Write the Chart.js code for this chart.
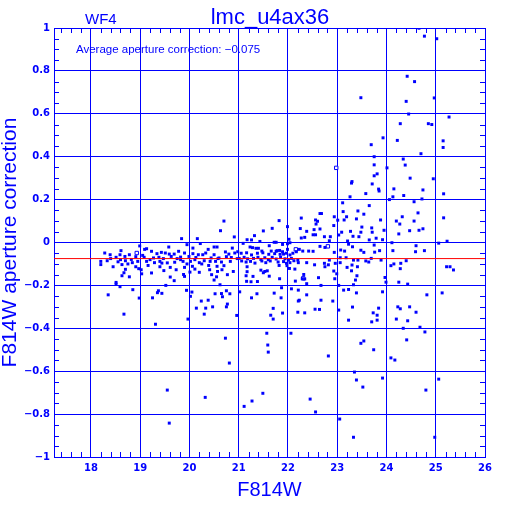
<!DOCTYPE html>
<html>
<head>
<meta charset="utf-8">
<script src="https://cdn.jsdelivr.net/npm/chart.js@4.4.1/dist/chart.umd.min.js"></script>
<style>
  html, body { margin: 0; padding: 0; background: #fff; }
  #wrap { width: 512px; height: 512px; }
</style>
</head>
<body>
<div id="wrap"><canvas id="chart" width="512" height="512"></canvas></div>
<script>
// axis ticks
const xTicks = [18, 19, 20, 21, 22, 23, 24, 25, 26];
const yTicks = [-1, -0.8, -0.6, -0.4, -0.2, 0, 0.2, 0.4, 0.6, 0.8, 1];
const avgCorr = -0.075;

// [F814W, aperture correction] for the bright stars (F814W < 22.3)
const brightStars = [
  [20.63,0.055],[20.91,0.026],[19.84,0.018],[20.16,0.018],[19.95,-0.010],[20.22,-0.005],[18.99,-0.016],
  [19.58,-0.021],[20.50,-0.021],[20.87,-0.026],[20.56,-0.021],[20.38,-0.032],[20.07,-0.026],[19.13,-0.029],
  [19.09,-0.032],[18.61,-0.038],[18.28,-0.049],[18.39,-0.057],[18.20,-0.088],[18.20,-0.103],[18.33,-0.085],
  [18.45,-0.113],[18.51,-0.069],[18.59,-0.057],[18.60,-0.080],[18.63,-0.103],[18.69,-0.065],[18.70,-0.085],
  [18.78,-0.057],[18.82,-0.079],[18.84,-0.094],[18.70,-0.125],[18.67,-0.141],[18.63,-0.155],[18.78,-0.160],
  [18.51,-0.186],[18.51,-0.194],[18.59,-0.206],[18.85,-0.220],[18.35,-0.244],[18.98,-0.259],
  [18.91,-0.066],[18.95,-0.088],[18.91,-0.113],[18.97,-0.122],[19.02,-0.127],[19.03,-0.146],[19.08,-0.069],
  [19.13,-0.088],[19.16,-0.107],[19.23,-0.041],[19.27,-0.072],[19.29,-0.094],[19.23,-0.142],[19.34,-0.052],
  [19.38,-0.069],[19.43,-0.046],[19.40,-0.088],[19.40,-0.113],[19.44,-0.096],[19.51,-0.049],[19.59,-0.054],
  [19.63,-0.065],[19.48,-0.131],[19.61,-0.116],[19.69,-0.054],[19.70,-0.092],[19.73,-0.127],[19.61,-0.161],
  [19.69,-0.178],[19.52,-0.200],[19.37,-0.225],[19.44,-0.237],[19.35,-0.234],[19.25,-0.258],[19.78,-0.041],
  [19.82,-0.068],[19.87,-0.088],[19.90,-0.049],[19.90,-0.116],[19.82,-0.080],[19.99,-0.065],[20.02,-0.088],
  [20.06,-0.111],[20.07,-0.052],[20.11,-0.080],[20.18,-0.057],[20.20,-0.094],[20.11,-0.124],[20.27,-0.057],
  [20.33,-0.049],[20.30,-0.085],[20.39,-0.107],[20.44,-0.072],[20.50,-0.057],[20.53,-0.088],[20.56,-0.111],
  [20.60,-0.072],[20.65,-0.091],[20.73,-0.044],[20.75,-0.066],[20.80,-0.054],[20.83,-0.088],[20.89,-0.135],
  [20.77,-0.150],[20.55,-0.160],[20.50,-0.175],[20.62,-0.197],[20.75,-0.225],[20.82,-0.239],[20.65,-0.238],
  [20.52,-0.239],[20.67,-0.253],[20.38,-0.269],[20.05,-0.231],[20.02,-0.251],[19.94,-0.223],[19.90,-0.158],
  [20.92,-0.049],[20.97,-0.075],[19.88,-0.149],[20.01,-0.138],[20.20,-0.139],[20.41,-0.127],[20.45,-0.150],
  [20.57,-0.135],[20.66,-0.127],[18.40,-0.075],[18.55,-0.090],[18.75,-0.100],[19.05,-0.060],[19.20,-0.080],
  [19.47,-0.075],[19.55,-0.095],[19.75,-0.075],[19.95,-0.100],[20.13,-0.070],[20.25,-0.100],[20.42,-0.088],
  [20.58,-0.075],[20.70,-0.108],[20.85,-0.070],
  [20.70,0.100],[21.82,0.102],[21.68,0.066],[21.99,0.074],
  [22.25,0.065],[21.50,0.054],[21.32,0.032],[21.17,0.013],[21.26,0.012],[21.43,0.005],[22.02,0.015],
  [22.04,-0.001],[21.89,-0.009],[21.99,-0.006],[21.72,0.001],[21.76,0.001],[21.62,-0.015],[21.09,-0.004],
  [21.23,-0.021],[21.28,-0.024],[21.35,-0.027],[21.40,-0.027],[21.47,-0.040],[21.66,-0.040],[21.76,-0.041],
  [21.78,-0.038],[21.83,-0.037],[21.89,-0.043],[21.99,-0.032],[22.17,-0.043],[22.23,-0.032],
  [20.98,-0.043],[21.05,-0.050],[21.16,-0.048],[21.26,-0.058],[21.38,-0.050],[21.49,-0.048],[21.61,-0.055],
  [21.73,-0.052],[21.84,-0.055],[21.91,-0.054],[21.97,-0.050],[22.04,-0.058],[22.10,-0.050],[21.01,-0.074],
  [21.11,-0.069],[21.18,-0.076],[21.30,-0.074],[21.39,-0.069],[21.45,-0.079],[21.53,-0.071],[21.60,-0.080],
  [21.68,-0.069],[21.76,-0.077],[21.85,-0.069],[21.94,-0.076],[22.01,-0.082],[22.07,-0.074],[22.12,-0.085],
  [22.20,-0.082],[21.06,-0.086],[21.15,-0.091],[21.24,-0.088],[21.33,-0.096],[21.47,-0.086],[21.55,-0.094],
  [21.64,-0.086],[21.80,-0.091],[21.91,-0.089],[21.97,-0.097],[22.04,-0.094],[21.17,-0.113],[21.45,-0.129],
  [21.53,-0.135],[21.58,-0.132],[21.50,-0.141],[21.82,-0.107],[21.98,-0.108],[22.03,-0.121],[22.14,-0.124],
  [22.21,-0.094],[21.62,-0.157],[21.17,-0.136],[21.15,-0.155],[21.29,-0.158],[21.38,-0.182],[21.25,-0.183],
  [21.16,-0.181],[21.83,-0.169],[22.15,-0.180],[21.02,-0.230],[21.26,-0.258],[21.37,-0.239],[21.72,-0.236],
  [21.86,-0.258],[21.87,-0.211],[22.07,-0.216],[22.21,-0.222],[22.23,-0.269],
  [18.67,-0.334],[19.31,-0.381],[19.97,-0.357],[20.14,-0.306],[20.24,-0.273],[20.33,-0.306],[20.30,-0.334],
  [20.47,-0.300],[20.75,-0.300],[20.77,-0.287],[20.96,-0.340],[20.73,-0.446],[20.81,-0.562],[21.57,-0.423],
  [21.59,-0.478],[21.60,-0.511],[21.70,-0.307],[21.65,-0.339],[21.70,-0.357],[21.89,-0.329],[22.06,-0.423],
  [22.21,-0.273],[22.20,-0.325],[19.55,-0.688],[20.32,-0.722],[21.11,-0.764],[21.27,-0.739],[21.49,-0.703],
  [19.59,-0.842]
];

// [F814W, aperture correction] for the faint stars (F814W >= 22.3)
const faintStars = [
  [24.66,0.999],[24.77,0.962],[25.02,0.950],[24.42,0.775],[24.57,0.750],[23.48,0.675],[24.40,0.658],
  [24.97,0.674],[24.45,0.599],[25.27,0.585],[24.28,0.554],[24.85,0.554],[24.92,0.550],[23.93,0.488],
  [24.22,0.476],[25.15,0.474],[23.69,0.456],[25.15,0.443],[24.70,0.414],[23.75,0.400],[24.34,0.389],
  [23.75,0.362],[24.01,0.348],[24.38,0.361],[23.81,0.320],[23.75,0.311],[24.48,0.300],[24.95,0.297],
  [23.30,0.284],[23.29,0.277],[23.71,0.273],[23.84,0.249],[23.85,0.240],[24.15,0.250],[24.74,0.245],
  [23.58,0.228],[25.16,0.227],[23.26,0.213],[24.13,0.213],[24.35,0.219],[24.72,0.203],[24.06,0.200],
  [24.56,0.190],[23.11,0.185],[23.65,0.172],[24.64,0.138],[23.42,0.147],[23.12,0.144],[22.65,0.135],
  [22.68,0.135],[23.54,0.132],[23.19,0.120],[24.32,0.120],[25.16,0.115],[22.56,0.105],[22.60,0.099],
  [22.94,0.120],[23.01,0.104],[23.14,0.105],[23.39,0.110],[23.88,0.105],[24.20,0.100],[24.56,0.100],
  [24.27,0.086],[22.27,0.114],[22.57,0.086],[22.93,0.079],[23.50,0.072],[23.70,0.068],[23.95,0.057],
  [24.47,0.055],[24.66,0.057],[24.74,0.064],[24.25,0.040],[23.27,0.052],[23.09,0.048],[22.53,0.060],
  [22.65,0.063],[22.51,0.036],[22.38,0.052],[22.27,0.021],[22.56,0.036],[22.74,0.027],[22.86,0.027],
  [23.32,0.029],[23.48,0.048],[23.44,0.027],[23.71,0.048],[23.79,0.020],[23.65,0.012],[23.92,0.013],
  [25.23,0.006],[22.34,0.024],[23.03,0.035],[23.21,0.007],
  [24.11,-0.001],[25.06,-0.003],[24.60,-0.015],[24.59,-0.043],[24.77,-0.038],[24.13,-0.038],[24.40,-0.085],
  [22.30,-0.040],[22.42,-0.040],[22.51,-0.041],[22.65,-0.018],[22.75,-0.023],[22.84,0.008],[22.94,-0.046],
  [23.07,-0.035],[23.15,-0.040],[23.23,-0.008],[23.31,-0.020],[23.42,-0.082],[23.48,-0.036],[23.54,-0.046],
  [23.75,-0.012],[23.76,-0.045],[23.86,-0.038],[23.69,-0.074],[23.89,-0.082],[22.74,-0.097],[22.84,-0.082],
  [22.96,-0.097],[23.06,-0.071],[23.18,-0.071],[23.33,-0.082],
  [22.38,-0.094],[22.54,-0.104],[22.32,-0.149],[22.29,-0.169],[22.34,-0.170],[22.38,-0.192],[22.62,-0.164],
  [22.75,-0.113],[22.82,-0.104],[22.93,-0.133],[22.95,-0.169],[22.99,-0.146],[22.67,-0.200],[23.06,-0.094],
  [23.03,-0.200],[23.20,-0.116],[23.30,-0.105],[23.29,-0.132],[23.40,-0.155],[23.41,-0.113],[23.37,-0.175],
  [23.33,-0.197],[23.58,-0.086],[23.64,-0.091],[23.97,-0.163],[23.99,-0.185],[24.09,-0.108],[24.15,-0.100],
  [24.29,-0.097],[24.28,-0.122],[24.25,-0.185],[24.43,-0.194],[25.22,-0.113],[25.29,-0.113],[25.36,-0.128],
  [22.38,-0.244],[22.67,-0.269],[22.91,-0.273],[22.34,-0.328],[22.55,-0.311],[22.64,-0.312],[23.03,-0.315],
  [23.31,-0.301],[23.23,-0.362],[23.13,-0.222],[23.23,-0.219],[23.39,-0.235],[23.73,-0.328],[23.81,-0.339],
  [23.84,-0.306],[23.70,-0.370],[23.81,-0.362],[23.92,-0.230],[24.23,-0.300],[24.28,-0.309],[24.20,-0.357],
  [24.43,-0.365],[24.47,-0.300],[24.60,-0.325],[24.34,-0.400],[24.68,-0.395],[24.78,-0.417],[24.82,-0.244],
  [25.13,-0.235],[23.48,-0.470],[23.54,-0.459],[23.74,-0.500],[22.82,-0.529],[24.09,-0.538],[24.17,-0.548],
  [24.41,-0.454],[23.35,-0.604],[23.39,-0.641],[23.52,-0.674],[23.92,-0.632],[24.80,-0.688],[25.06,-0.637],
  [22.45,-0.730],[22.56,-0.790],[23.05,-0.823],[23.33,-0.908],[24.98,-0.908]
];

// stars drawn as open squares
const openStars = [[18.93,-0.049],[22.98,0.348],[22.81,-0.018],[22.31,-0.167],[22.16,-0.032]];

const BLUE = '#0000ff';
const toXY = arr => arr.map(([m, c]) => ({ x: m, y: c }));

function fmt(v) {
  if (v === 0) return '0';
  return (v < 0 ? '\u2212' : '') + Math.abs(v);
}

// little inward ticks between the grid lines, on all four sides
const minorTicks = {
  id: 'minorTicks',
  afterDraw(chart) {
    const { ctx, chartArea: a, scales: { x, y } } = chart;
    ctx.save();
    ctx.strokeStyle = BLUE;
    ctx.lineWidth = 1;
    ctx.beginPath();
    for (let i = 0; i <= 42; i++) {
      const v = 17.4 + i * 0.2;
      if (Math.abs(v - Math.round(v)) < 0.01) continue;
      const px = Math.round(x.getPixelForValue(v)) + 0.5;
      ctx.moveTo(px, a.bottom); ctx.lineTo(px, a.bottom - 5);
      ctx.moveTo(px, a.top); ctx.lineTo(px, a.top + 5);
    }
    for (let i = 0; i <= 40; i++) {
      if (i % 4 === 0) continue;
      const py = Math.round(y.getPixelForValue(-1 + i * 0.05)) + 0.5;
      ctx.moveTo(a.left, py); ctx.lineTo(a.left + 5, py);
      ctx.moveTo(a.right, py); ctx.lineTo(a.right - 5, py);
    }
    ctx.stroke();
    ctx.restore();
  }
};

// header texts
const labels = {
  id: 'labels',
  afterDraw(chart) {
    const ctx = chart.ctx;
    ctx.save();
    ctx.fillStyle = BLUE;
    ctx.textBaseline = 'alphabetic';
    ctx.font = '15px "Liberation Sans", sans-serif';
    ctx.textAlign = 'left';
    ctx.fillText('WF4', 85, 24);
    ctx.font = '22px "Liberation Sans", sans-serif';
    ctx.textAlign = 'center';
    ctx.fillText('lmc_u4ax36', 270, 24);
    ctx.font = '11.5px "Liberation Sans", sans-serif';
    ctx.textAlign = 'left';
    ctx.fillText('Average aperture correction: \u22120.075', 76, 53);
    ctx.restore();
  }
};

new Chart(document.getElementById('chart'), {
  type: 'scatter',
  data: {
    datasets: [
      {
        type: 'line',
        data: [{ x: 17.25, y: avgCorr }, { x: 26, y: avgCorr }],
        borderColor: '#ff0000',
        borderWidth: 1,
        pointRadius: 0,
        order: 0
      },
      {
        data: toXY(brightStars.concat(faintStars)),
        pointStyle: 'rect',
        pointRadius: 2.1,
        borderWidth: 0,
        backgroundColor: BLUE,
        order: 1
      },
      {
        data: toXY(openStars),
        pointStyle: 'rect',
        pointRadius: 2.4,
        borderWidth: 1,
        borderColor: BLUE,
        backgroundColor: '#ffffff',
        order: 1
      }
    ]
  },
  options: {
    responsive: false,
    animation: false,
    devicePixelRatio: 1,
    layout: { padding: { top: 28, right: 27, left: 0, bottom: 0 } },
    plugins: { legend: { display: false }, tooltip: { enabled: false } },
    scales: {
      x: {
        type: 'linear',
        min: 17.25,
        max: 26,
        afterBuildTicks: s => { s.ticks = xTicks.map(v => ({ value: v })); },
        afterFit: s => { s.height = 55; },
        grid: { color: BLUE, lineWidth: 1, drawTicks: false },
        border: { color: BLUE, width: 1 },
        ticks: {
          color: BLUE,
          padding: 5,
          maxRotation: 0,
          font: { family: '"DejaVu Sans", sans-serif', size: 10, weight: 'bold' },
          callback: v => fmt(v)
        },
        title: {
          display: true,
          text: 'F814W',
          color: BLUE,
          font: { family: '"Liberation Sans", sans-serif', size: 20, lineHeight: 1 },
          padding: { top: 0, bottom: 12 }
        }
      },
      y: {
        type: 'linear',
        min: -1,
        max: 1,
        afterBuildTicks: s => { s.ticks = yTicks.map(v => ({ value: v })); },
        afterFit: s => { s.width = 54; },
        grid: { color: BLUE, lineWidth: 1, drawTicks: false },
        border: { color: BLUE, width: 1 },
        ticks: {
          color: BLUE,
          padding: 4,
          font: { family: '"DejaVu Sans", sans-serif', size: 10, weight: 'bold' },
          callback: v => fmt(v)
        },
        title: {
          display: true,
          text: 'F814W aperture correction',
          color: BLUE,
          font: { family: '"Liberation Sans", sans-serif', size: 21, lineHeight: 1 },
          padding: { top: 0, bottom: 0 }
        }
      }
    }
  },
  plugins: [minorTicks, labels]
});
</script>
</body>
</html>
